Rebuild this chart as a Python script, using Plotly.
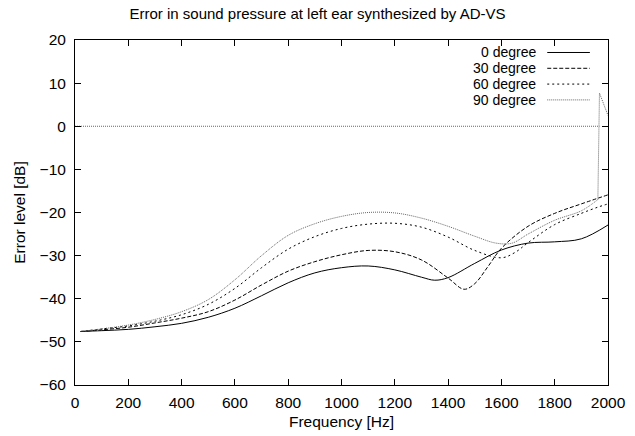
import plotly.graph_objects as go

# ---- data ----
freq_0 = [20, 100, 200, 300, 400, 500, 600, 700, 800, 900, 1000, 1100, 1200, 1300, 1350, 1400, 1500, 1600, 1700, 1800, 1900, 2000]
db_0 = [-47.6, -47.4, -47.1, -46.5, -45.7, -44.3, -42.2, -39.3, -36.3, -34.0, -32.8, -32.4, -33.3, -35.0, -35.7, -35.1, -31.8, -28.7, -27.1, -26.8, -26.1, -22.9]

freq_30 = [20, 100, 200, 300, 400, 500, 600, 700, 800, 900, 1000, 1100, 1200, 1300, 1400, 1460, 1500, 1550, 1600, 1700, 1800, 1900, 2000]
db_30 = [-47.6, -47.2, -46.6, -45.6, -44.5, -43.0, -40.3, -36.8, -33.6, -31.4, -29.8, -28.8, -29.1, -31.0, -35.2, -37.8, -36.5, -32.5, -28.3, -23.2, -20.2, -18.0, -15.9]

freq_60 = [20, 100, 200, 300, 400, 500, 600, 700, 800, 900, 1000, 1100, 1200, 1300, 1400, 1500, 1600, 1650, 1700, 1800, 1900, 1960, 2000]
db_60 = [-47.6, -47.0, -46.3, -45.2, -43.7, -41.3, -37.6, -32.8, -28.5, -25.6, -23.7, -22.7, -22.5, -23.4, -25.7, -28.8, -30.5, -29.3, -27.0, -22.8, -20.2, -18.8, -18.0]

freq_90 = [20, 100, 200, 300, 400, 500, 600, 700, 800, 900, 1000, 1100, 1200, 1300, 1400, 1500, 1580, 1640, 1700, 1800, 1900, 1962]
db_90 = [-47.6, -47.0, -46.1, -44.8, -43.0, -40.2, -35.6, -30.0, -25.3, -22.6, -20.9, -20.0, -20.1, -21.3, -23.2, -25.5, -27.1, -27.1, -25.0, -21.8, -19.6, -17.0]
# sharp jump at the top end of the 90 degree series
spike90_freq = [1962, 1968, 2000]
spike90_db = [-17.0, 7.7, 2.5]
# dotted reference line at 0 dB
zero_freq = [0, 1968]
zero_db = [0, 0]

x_ticks = [0, 200, 400, 600, 800, 1000, 1200, 1400, 1600, 1800, 2000]
y_ticks = [20, 10, 0, -10, -20, -30, -40, -50, -60]

series_labels = ["0 degree", "30 degree", "60 degree", "90 degree"]

# ---- styles ----
FONT = "Liberation Sans, Arial, Helvetica, sans-serif"
FS = 15.5
styles = [
    dict(color="black", width=1, dash="solid"),
    dict(color="black", width=1, dash="4px,2px"),
    dict(color="black", width=1, dash="2px,3px"),
    dict(color="#666666", width=1, dash="1px,1px"),
]

fig = go.Figure()
fig.add_trace(go.Scatter(x=zero_freq, y=zero_db, mode="lines", line=styles[3], showlegend=False, hoverinfo="skip"))
for f, d, st, name in zip([freq_0, freq_30, freq_60, freq_90], [db_0, db_30, db_60, db_90], styles, series_labels):
    fig.add_trace(go.Scatter(x=f, y=d, mode="lines", name=name, line=dict(shape="spline", smoothing=1.0, **st), showlegend=False))
fig.add_trace(go.Scatter(x=spike90_freq, y=spike90_db, mode="lines", line=styles[3], showlegend=False, cliponaxis=True))

# custom gnuplot-style key: right-aligned text, sample on the right
row_y = [0.9638, 0.9180, 0.8722, 0.8264]
for name, st, yy in zip(series_labels, styles, row_y):
    fig.add_annotation(x=0.867, y=yy, xref="paper", yref="paper", text=name, showarrow=False,
                       xanchor="right", yanchor="middle", borderpad=0,
                       font=dict(family=FONT, size=14, color="black"))
    fig.add_shape(type="line", xref="paper", yref="paper", x0=0.886, x1=0.966, y0=yy, y1=yy,
                  line=dict(color=st["color"], width=st["width"], dash=st["dash"]))

axis_common = dict(showline=True, linecolor="black", linewidth=1, mirror="ticks", ticks="inside",
                   ticklen=6, tickcolor="black", showgrid=False, zeroline=False, automargin=False,
                   tickfont=dict(family=FONT, size=FS, color="black"))

fig.update_layout(
    width=635, height=436,
    margin=dict(l=75, r=27, t=40, b=51),
    paper_bgcolor="white", plot_bgcolor="white",
    title=dict(text="Error in sound pressure at left ear synthesized by AD-VS", x=0.5, xanchor="center",
               y=0.968, yanchor="middle", yref="container", font=dict(family=FONT, size=15, color="black")),
    xaxis=dict(range=[0, 2000], tickvals=x_ticks, title=dict(text="Frequency [Hz]", font=dict(family=FONT, size=FS, color="black"), standoff=6),
               ticklabelstandoff=3, **axis_common),
    yaxis=dict(range=[-60, 20], tickvals=y_ticks, title=dict(text="Error level [dB]", font=dict(family=FONT, size=FS, color="black"), standoff=10),
               ticklabelstandoff=5, **axis_common),
    showlegend=False,
)

fig.write_html("out.html")
